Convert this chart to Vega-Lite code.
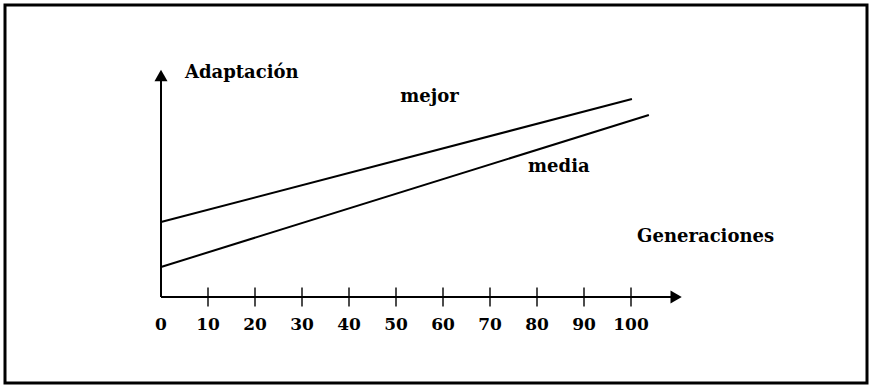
{
  "$schema": "https://vega.github.io/schema/vega-lite/v6.json",
  "width": 873,
  "height": 386,
  "autosize": {"type": "fit", "contains": "padding"},
  "padding": {"left": 5, "top": 5, "right": 6, "bottom": 3},
  "background": "white",
  "config": {"view": {"stroke": "black", "strokeWidth": 3}},
  "datasets": {
    "series": [
      {"serie": "mejor", "x": 0, "y": 37.5},
      {"serie": "mejor", "x": 100.2, "y": 99},
      {"serie": "media", "x": 0, "y": 15},
      {"serie": "media", "x": 103.8, "y": 91}
    ],
    "ticks": [
      {"t": 0, "label": "0"}, {"t": 10, "label": "10"}, {"t": 20, "label": "20"},
      {"t": 30, "label": "30"}, {"t": 40, "label": "40"}, {"t": 50, "label": "50"},
      {"t": 60, "label": "60"}, {"t": 70, "label": "70"}, {"t": 80, "label": "80"},
      {"t": 90, "label": "90"}, {"t": 100, "label": "100"}
    ],
    "axes": [
      {"x": 0, "y": 0, "x2": 0, "y2": 110.75},
      {"x": 0, "y": 0, "x2": 109.6, "y2": 0}
    ],
    "labels": [
      {"text": "Adaptación", "x": 5.1, "y": 112},
      {"text": "mejor", "x": 50.9, "y": 100},
      {"text": "media", "x": 78.1, "y": 65},
      {"text": "Generaciones", "x": 101.3, "y": 30}
    ]
  },
  "layer": [
    {
      "data": {"name": "axes"},
      "mark": {"type": "rule", "color": "black", "strokeWidth": 2},
      "encoding": {
        "x": {"field": "x", "type": "quantitative", "scale": {"domain": [-33.19, 150.21], "nice": false, "zero": false}, "axis": null},
        "y": {"field": "y", "type": "quantitative", "scale": {"domain": [-43, 146], "nice": false, "zero": false}, "axis": null},
        "x2": {"field": "x2"},
        "y2": {"field": "y2"}
      }
    },
    {
      "data": {"values": [{"x": 0, "y": 110.75}]},
      "mark": {"type": "point", "shape": "triangle-up", "filled": true, "color": "black", "size": 170, "opacity": 1},
      "encoding": {
        "x": {"field": "x", "type": "quantitative"},
        "y": {"field": "y", "type": "quantitative"}
      }
    },
    {
      "data": {"values": [{"x": 109.6, "y": 0}]},
      "mark": {"type": "point", "shape": "triangle-right", "filled": true, "color": "black", "size": 170, "opacity": 1},
      "encoding": {
        "x": {"field": "x", "type": "quantitative"},
        "y": {"field": "y", "type": "quantitative"}
      }
    },
    {
      "data": {"name": "ticks"},
      "transform": [{"filter": "datum.t > 0"}],
      "mark": {"type": "tick", "orient": "vertical", "color": "black", "size": 19, "thickness": 2},
      "encoding": {
        "x": {"field": "t", "type": "quantitative"},
        "y": {"datum": 0, "type": "quantitative"}
      }
    },
    {
      "data": {"name": "ticks"},
      "mark": {"type": "text", "font": "DejaVu Serif", "fontWeight": "bold", "fontSize": 17, "color": "black", "align": "center", "baseline": "middle"},
      "encoding": {
        "x": {"field": "t", "type": "quantitative"},
        "y": {"datum": -14, "type": "quantitative"},
        "text": {"field": "label"}
      }
    },
    {
      "data": {"name": "series"},
      "mark": {"type": "line", "strokeWidth": 2},
      "encoding": {
        "x": {"field": "x", "type": "quantitative"},
        "y": {"field": "y", "type": "quantitative"},
        "color": {"field": "serie", "type": "nominal", "scale": {"range": ["black", "black"]}, "legend": null}
      }
    },
    {
      "data": {"name": "labels"},
      "mark": {"type": "text", "font": "DejaVu Serif", "fontWeight": "bold", "fontSize": 18, "color": "black", "align": "left", "baseline": "middle"},
      "encoding": {
        "x": {"field": "x", "type": "quantitative"},
        "y": {"field": "y", "type": "quantitative"},
        "text": {"field": "text"}
      }
    }
  ]
}
